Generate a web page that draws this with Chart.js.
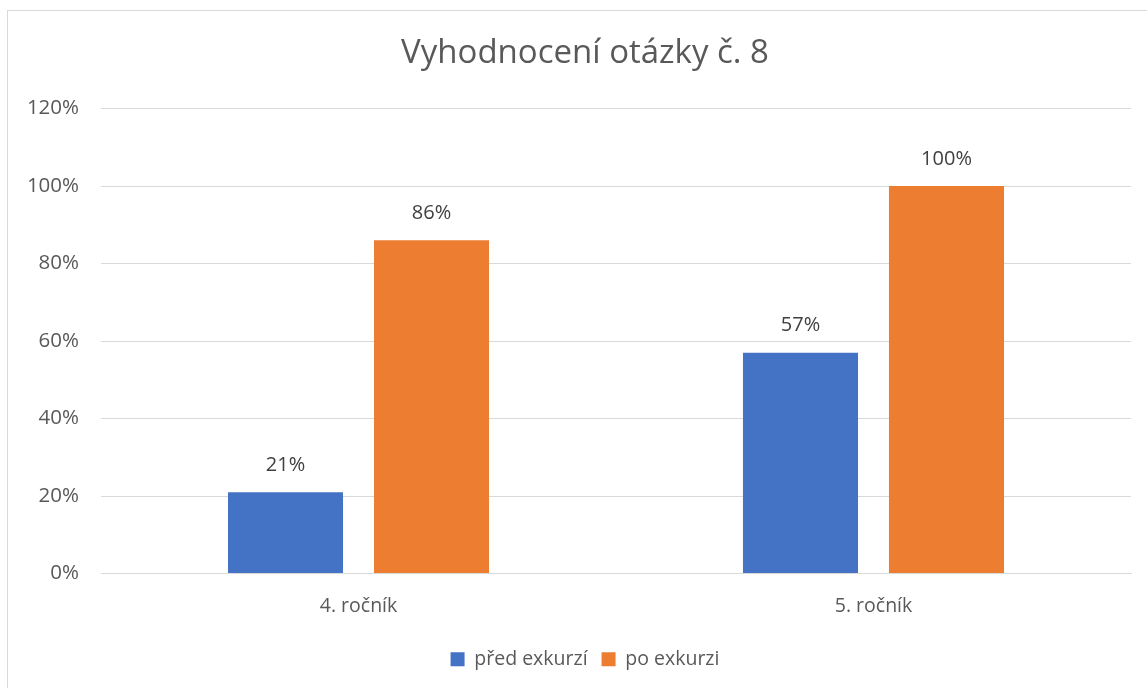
<!DOCTYPE html>
<html>
<head>
<meta charset="utf-8">
<script src="https://cdn.jsdelivr.net/npm/chart.js@4/dist/chart.umd.min.js"></script>
<style>
  html, body { margin: 0; padding: 0; background: #fff; overflow: hidden; }
  #wrap { position: relative; width: 1147px; height: 688px; }
  #frame { position: absolute; left: 7px; top: 10px; width: 1200px; height: 800px; border: 1px solid #d9d9d9; }
  canvas { position: absolute; left: 0; top: 0; }
</style>
</head>
<body>
<div id="wrap">
  <div id="frame"></div>
  <canvas id="chart" width="1147" height="688"></canvas>
</div>
<script>
// Chart data
const categories = ['4. ročník', '5. ročník'];
const seriesNames = ['před exkurzí', 'po exkurzi'];
const predValues = [21, 57];
const poValues = [86, 100];
const yTicks = [0, 20, 40, 60, 80, 100, 120];

const FONT = '"Open Sans", sans-serif';
const TEXT = '#595959';

// Value labels above bars
const barLabels = {
  id: 'barLabels',
  afterDatasetsDraw(chart) {
    const ctx = chart.ctx;
    ctx.save();
    ctx.font = '20px ' + FONT;
    ctx.fillStyle = '#404040';
    ctx.textAlign = 'center';
    ctx.textBaseline = 'middle';
    chart.data.datasets.forEach((ds, i) => {
      chart.getDatasetMeta(i).data.forEach((bar, j) => {
        ctx.fillText(ds.data[j] + '%', bar.x, bar.y - 27);
      });
    });
    ctx.restore();
  }
};

// The title and legend are centred on the whole frame, which runs past the right edge
const centerOnFrame = {
  id: 'centerOnFrame',
  afterLayout(chart) {
    if (chart.titleBlock) chart.titleBlock.left += 39;
    if (chart.legend) chart.legend.left += 39;
  }
};

new Chart(document.getElementById('chart').getContext('2d'), {
  type: 'bar',
  data: {
    labels: categories,
    datasets: [{
      label: seriesNames[0],
      data: predValues,
      backgroundColor: '#4472C4',
      categoryPercentage: 0.567,
      barPercentage: 0.788
    }, {
      label: seriesNames[1],
      data: poValues,
      backgroundColor: '#ED7D31',
      categoryPercentage: 0.567,
      barPercentage: 0.788
    }]
  },
  options: {
    responsive: false,
    animation: false,
    layout: { padding: { left: 0, right: 16, top: 0, bottom: 9 } },
    plugins: {
      title: {
        display: true,
        text: 'Vyhodnocení otázky č. 8',
        color: TEXT,
        font: { family: FONT, size: 33, weight: 'normal' },
        padding: { top: 34, bottom: 35 }
      },
      legend: {
        position: 'bottom',
        labels: {
          color: TEXT,
          font: { family: FONT, size: 19.5 },
          boxWidth: 14,
          boxHeight: 14,
          padding: 14
        }
      },
      tooltip: { enabled: false }
    },
    scales: {
      x: {
        grid: { display: false },
        border: { color: '#d9d9d9' },
        ticks: { color: TEXT, font: { family: FONT, size: 19.5 }, padding: 13 },
        afterFit(scale) { scale.height = 62; }
      },
      y: {
        min: 0,
        max: 120,
        afterBuildTicks(scale) { scale.ticks = yTicks.map(v => ({ value: v })); },
        grid: { color: '#d9d9d9', drawTicks: false },
        border: { display: false },
        ticks: {
          color: TEXT,
          font: { family: FONT, size: 20.5 },
          padding: 22,
          callback: v => v + '%'
        },
        afterFit(scale) { scale.width = 101; }
      }
    }
  },
  plugins: [barLabels, centerOnFrame]
});
</script>
</body>
</html>
